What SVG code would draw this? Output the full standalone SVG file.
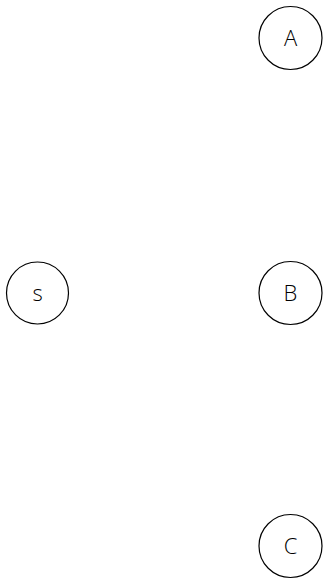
<svg xmlns="http://www.w3.org/2000/svg" width="324" height="579" viewBox="0 0 324 579">
<style>
.n circle{fill:#fff;stroke:#000;stroke-width:1.2}
.n text{font-family:"Open Sans","DejaVu Sans",sans-serif;font-weight:300;font-size:22px;text-anchor:middle;dominant-baseline:central;fill:#000}
</style>
<rect width="324" height="579" fill="#fff"/>
<g id="connectors"></g>
<g id="A" class="n"><circle cx="290.5" cy="38" r="31.5"/><text x="290.5" y="37">A</text></g>
<g id="s" class="n"><circle cx="37.5" cy="293" r="31"/><text x="37.5" y="292">s</text></g>
<g id="B" class="n"><circle cx="290.5" cy="293" r="31.5"/><text x="290.5" y="292">B</text></g>
<g id="C" class="n"><circle cx="290.5" cy="546" r="31.5"/><text x="290.5" y="545">C</text></g>
</svg>
